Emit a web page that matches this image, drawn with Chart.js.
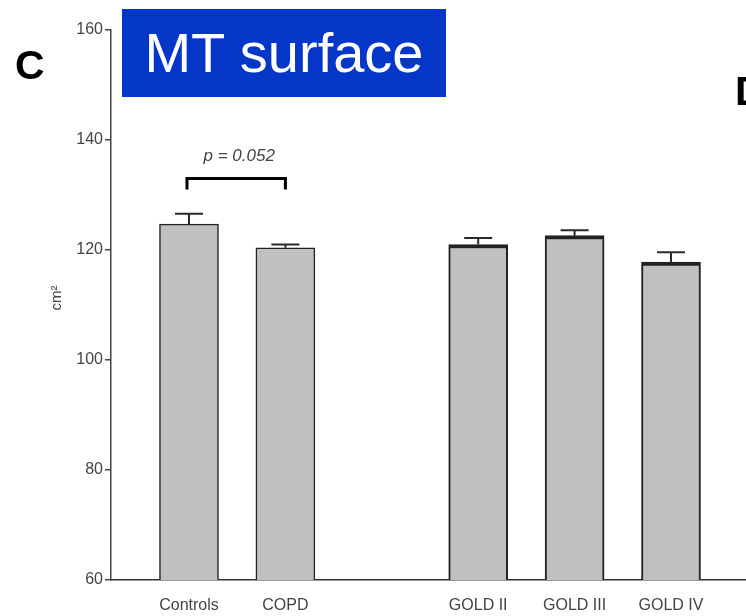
<!DOCTYPE html>
<html>
<head>
<meta charset="utf-8">
<script src="https://cdn.jsdelivr.net/npm/chart.js@4.4.1/dist/chart.umd.min.js"></script>
<style>
    html, body { margin: 0; padding: 0; background: #fff; overflow: hidden; }
    #wrap { position: relative; width: 746px; height: 616px; }
    #mt-chart { position: absolute; left: 0; top: 0; }
    .panel { position: absolute; font-family: "Liberation Sans", Arial, sans-serif; font-weight: bold; font-size: 41px; color: #000; line-height: 1; }
    #title-box {
        position: absolute; left: 122px; top: 9px; width: 324px; height: 88px;
        background: #0436c8; color: #fff;
        font-family: "Liberation Sans", Arial, sans-serif; font-size: 56px;
        line-height: 88px; text-align: center;
    }
</style>
</head>
<body>
<div id="wrap">
    <canvas id="mt-chart" width="746" height="616"></canvas>
    <div class="panel" style="left:15px; top:45px;">C</div>
    <div class="panel" style="left:735px; top:71px;">D</div>
    <div id="title-box">MT surface</div>
</div>
<script>
// groups on the x axis; the blank entry leaves the gap between the two halves
const groups = ['Controls', 'COPD', '', 'GOLD II', 'GOLD III', 'GOLD IV'];
const means = [124.7, 120.4, null, 121.0, 122.6, 117.8];
const sem = [1.9, 0.6, null, 1.2, 1.0, 1.8];
const yTicks = [60, 80, 100, 120, 140, 160];
const yUnit = 'cm²';
const pLabel = 'p = 0.052';
const pBracket = { from: 0, to: 1, level: 133, drop: 2, textAt: 137 };

const barData = groups
    .map((name, i) => ({ x: i + 1, y: means[i], name }))
    .filter(d => d.y !== null);
const errData = sem.filter(s => s !== null);

const ink = '#444';
const fontFamily = '"Liberation Sans", Arial, sans-serif';

const errorBars = {
    id: 'errorBars',
    afterDatasetsDraw(chart) {
        const { ctx, scales: { y } } = chart;
        const meta = chart.getDatasetMeta(0);
        ctx.save();
        ctx.strokeStyle = '#2a2a2a';
        ctx.lineWidth = 2;
        meta.data.forEach((bar, i) => {
            const top = y.getPixelForValue(barData[i].y + errData[i]);
            ctx.beginPath();
            ctx.moveTo(bar.x, bar.y);
            ctx.lineTo(bar.x, top);
            ctx.moveTo(bar.x - 14, top);
            ctx.lineTo(bar.x + 14, top);
            ctx.stroke();
        });
        ctx.restore();
    }
};

const annotations = {
    id: 'annotations',
    afterDraw(chart) {
        const { ctx, scales: { y } } = chart;
        const meta = chart.getDatasetMeta(0);
        const x0 = meta.data[pBracket.from].x - 2;
        const x1 = meta.data[pBracket.to].x;
        const yl = y.getPixelForValue(pBracket.level);
        const yd = y.getPixelForValue(pBracket.level - pBracket.drop);
        ctx.save();
        ctx.strokeStyle = '#000';
        ctx.lineWidth = 3;
        ctx.beginPath();
        ctx.moveTo(x0, yd);
        ctx.lineTo(x0, yl);
        ctx.lineTo(x1, yl);
        ctx.lineTo(x1, yd);
        ctx.stroke();

        ctx.fillStyle = ink;
        ctx.font = 'italic 17px ' + fontFamily;
        ctx.textAlign = 'center';
        ctx.textBaseline = 'middle';
        ctx.fillText(pLabel, (x0 + x1) / 2 + 3, y.getPixelForValue(pBracket.textAt));

        // unit label beside the y axis
        ctx.translate(57, (chart.chartArea.top + chart.chartArea.bottom) / 2 - 7);
        ctx.rotate(-Math.PI / 2);
        ctx.font = '15px ' + fontFamily;
        ctx.fillText(yUnit, 0, 0);
        ctx.restore();
    }
};

new Chart(document.getElementById('mt-chart'), {
    type: 'bar',
    data: {
        datasets: [{
            data: barData,
            backgroundColor: '#c0c0c0',
            borderColor: '#222',
            borderWidth: ctx => ctx.dataIndex >= 2
                ? { top: 4, left: 2, right: 2, bottom: 0 }
                : { top: 1.5, left: 1.5, right: 1.5, bottom: 0 },
            borderSkipped: 'bottom',
            barThickness: 59
        }]
    },
    options: {
        responsive: false,
        animation: false,
        events: [],
        layout: { padding: { top: 30, right: 0, left: 0, bottom: 0 } },
        plugins: {
            legend: { display: false },
            tooltip: { enabled: false }
        },
        scales: {
            x: {
                type: 'linear',
                offset: false,
                min: 0.191,
                max: 6.778,
                afterBuildTicks: scale => {
                    scale.ticks = groups
                        .map((name, i) => ({ value: i + 1 }))
                        .filter((t, i) => groups[i] !== '');
                },
                afterFit: scale => { scale.height = 36; },
                grid: { display: false, drawTicks: false },
                border: { display: true, color: '#333', width: 1.5 },
                ticks: {
                    callback: v => groups[v - 1],
                    maxRotation: 0,
                    autoSkip: false,
                    padding: 16,
                    color: ink,
                    font: { family: fontFamily, size: 16 }
                }
            },
            y: {
                min: 60,
                max: 160,
                afterBuildTicks: scale => {
                    scale.ticks = yTicks.map(v => ({ value: v }));
                },
                afterFit: scale => { scale.width = 111; },
                grid: {
                    drawOnChartArea: false,
                    tickLength: 6,
                    color: '#444',
                    lineWidth: 1.5
                },
                border: { display: true, color: '#444', width: 1.5 },
                ticks: {
                    padding: 2,
                    color: ink,
                    font: { family: fontFamily, size: 16 }
                }
            }
        }
    },
    plugins: [errorBars, annotations]
});
</script>
</body>
</html>
